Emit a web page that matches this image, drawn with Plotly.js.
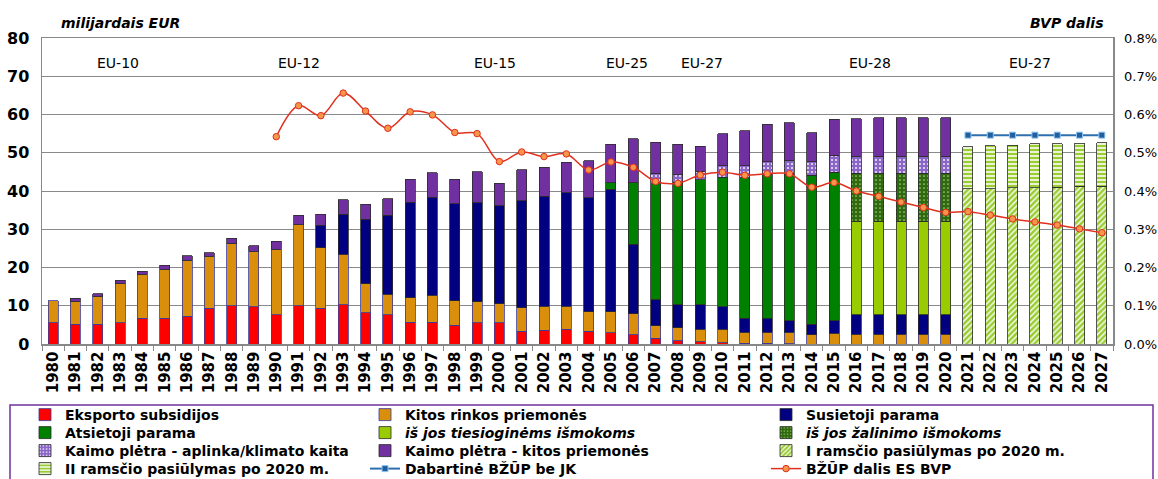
<!DOCTYPE html>
<html><head><meta charset="utf-8">
<script src="https://cdn.plot.ly/plotly-3.0.1.min.js"></script>
<style>html,body{margin:0;padding:0;background:#fff;} #chart{width:1158px;height:479px;}</style>
</head><body><div id="chart"></div>
<script>
// ---- DATA (billions EUR unless noted) ----
const years = ['1980','1981','1982','1983','1984','1985','1986','1987','1988','1989',
  '1990','1991','1992','1993','1994','1995','1996','1997','1998','1999',
  '2000','2001','2002','2003','2004','2005','2006','2007','2008','2009',
  '2010','2011','2012','2013','2014','2015','2016','2017','2018','2019',
  '2020','2021','2022','2023','2024','2025','2026','2027'];

// each series: first year it appears, then its values
const eksportoStart = 1980;
const eksportoSubsidijos = [5.6,5.1,5.1,5.6,6.7,6.7,7.3,9.3,10.0,9.8,7.7,10.0,9.3,10.2,8.2,7.7,5.7,5.7,4.9,5.5,5.5,3.3,3.6,3.8,3.4,3.0,2.4,1.5,0.9,0.6,0.3,0.2,0.2,0.1];
const kitosRinkosStart = 1980;
const kitosRinkosPriemones = [5.7,5.9,7.3,10.1,11.5,12.8,14.6,13.6,16.2,14.4,17.1,21.2,15.9,13.3,7.5,5.3,6.4,7.1,6.4,5.5,5.0,6.2,6.3,6.1,5.0,5.4,5.5,3.3,3.3,3.2,3.5,2.9,2.9,3.0,2.4,2.8,2.6,2.6,2.6,2.6,2.6];
const susietojiStart = 1992;
const susietojiParama = [5.8,10.4,16.9,20.6,25.0,25.6,25.4,25.9,25.7,28.0,28.7,29.7,29.9,32.1,18.2,6.8,6.1,6.5,6.0,3.6,3.6,3.0,2.7,3.3,5.0,5.0,5.0,5.0,5.0];
const atsietojiStart = 2005;
const atsietojiParama = [1.6,16.0,30.3,32.0,32.6,33.8,36.8,37.5,38.6,39.0,38.8];
const tiesioginiuStart = 2016;
const tiesioginemsIsmokoms = [24.5,24.5,24.5,24.5,24.5];
const zalinimoStart = 2016;
const zalinimoIsmokoms = [12.5,12.5,12.5,12.5,12.5];
const kpAplinkaStart = 2007;
const kaimoPletraAplinka = [2.7,2.0,2.3,3.0,3.1,3.4,3.4,3.5,4.4,4.5,4.5,4.5,4.5,4.5];
const kpKitosStart = 1981;
const kaimoPletraKitos = [0.9,0.7,1.0,0.8,1.1,1.2,1.0,1.4,1.5,2.1,2.5,2.9,3.8,4.0,4.4,6.0,6.4,6.4,8.1,5.8,8.0,7.6,7.9,9.6,10.1,11.5,8.2,7.9,6.5,8.4,9.1,9.9,9.8,7.6,9.5,9.8,10.1,10.1,10.1,10.1];
const pillar1Start = 2021;
const iRamscioPasiulymas = [40.6,40.6,40.8,40.8,41.0,41.2,41.3];
const pillar2Start = 2021;
const iiRamscioPasiulymas = [11.0,11.2,11.2,11.5,11.3,11.3,11.3];
const dabartineStart = 2021;
const dabartineBzupBeJK = [54.6,54.6,54.6,54.6,54.6,54.6,54.6];
const bvpStart = 1990;
const bzupDalisBVP = [0.542,0.623,0.597,0.656,0.609,0.564,0.607,0.599,0.553,0.550,0.477,0.502,0.490,0.497,0.455,0.476,0.462,0.425,0.420,0.442,0.449,0.441,0.445,0.445,0.410,0.422,0.400,0.386,0.371,0.357,0.344,0.346,0.337,0.327,0.319,0.311,0.301,0.291]; // % of GDP

const euLabels = ['EU-10','EU-12','EU-15','EU-25','EU-27','EU-28','EU-27'];
const leftTitle = 'milijardais EUR';
const rightTitle = 'BVP dalis';

// align a series to the year categories
function align(start, vals){
  return years.map(y => { const i = +y - start; return (i >= 0 && i < vals.length) ? vals[i] : null; });
}

const edge = '#2a2a2a', edgeLow = '#3b3b9a';
function bar(name, start, vals, color, opts){
  return {type:'bar', name:name, x:years, y:align(start, vals),
    marker:Object.assign({color:color, line:{color:(opts&&opts.edge)||edge, width:0.8}}, (opts&&opts.pattern)?{pattern:opts.pattern}:{}),
    hoverinfo:'x+y+name'};
}

const traces = [
  bar('Eksporto subsidijos', eksportoStart, eksportoSubsidijos, '#FF0000', {edge:edgeLow}),
  bar('Kitos rinkos priemonės', kitosRinkosStart, kitosRinkosPriemones, '#D98E0C', {edge:edgeLow}),
  bar('Susietoji parama', susietojiStart, susietojiParama, '#000080'),
  bar('Atsietoji parama', atsietojiStart, atsietojiParama, '#008000'),
  bar('<i>iš jos tiesioginėms išmokoms</i>', tiesioginiuStart, tiesioginemsIsmokoms, '#99CC00'),
  bar('<i>iš jos žalinimo išmokoms</i>', zalinimoStart, zalinimoIsmokoms, '#2F6A12',
      {pattern:{shape:'.', bgcolor:'#2F6A12', fgcolor:'#A6D36A', size:4, solidity:0.15}}),
  bar('Kaimo plėtra - aplinka/klimato kaita', kpAplinkaStart, kaimoPletraAplinka, '#8C6BCB',
      {pattern:{shape:'.', bgcolor:'#8A66C8', fgcolor:'#F2ECFA', size:4, solidity:0.2}}),
  bar('Kaimo plėtra - kitos priemonės', kpKitosStart, kaimoPletraKitos, '#7030A0'),
  bar('I ramsčio pasiūlymas po 2020 m.', pillar1Start, iRamscioPasiulymas, '#9ACD32',
      {pattern:{shape:'/', bgcolor:'#9ACD32', fgcolor:'#FFFFFF', size:4, solidity:0.35}}),
  bar('II ramsčio pasiūlymas po 2020 m.', pillar2Start, iiRamscioPasiulymas, '#9ACD32',
      {pattern:{shape:'-', bgcolor:'#9ACD32', fgcolor:'#FFFFFF', size:4, solidity:0.4}}),
  {type:'scatter', mode:'lines+markers', name:'Dabartinė BŽŪP be JK', x:years, y:align(dabartineStart, dabartineBzupBeJK),
   line:{color:'#2E6FAE', width:2},
   marker:{symbol:'square', size:6, color:'#1F5F9F', line:{color:'#8FC3F0', width:1}}},
  {type:'scatter', mode:'lines+markers', name:'BŽŪP dalis ES BVP', x:years, y:align(bvpStart, bzupDalisBVP),
   yaxis:'y2', line:{color:'#E0301E', width:1.5, shape:'spline', smoothing:1},
   marker:{symbol:'circle', size:6.5, color:'#F7964A', line:{color:'#E0301E', width:1}}}
];

const W = 1158, H = 479, L = 42, R = 45, T = 38, B = 135;
const pw = W - L - R, ph = H - T - B;
const px = v => (v - L) / pw;      // pixel -> paper x
const py = v => (H - B - v) / ph;  // pixel -> paper y

const legFont = {family:'DejaVu Sans', size:14, weight:'bold', color:'#000'};
const colX = [25, 365, 766];
const rowTop = [399, 417, 435, 453];

const layout = {
  width:W, height:H, margin:{l:L, r:R, t:T, b:B, pad:0, autoexpand:false},
  paper_bgcolor:'#fff', plot_bgcolor:'#fff',
  barmode:'stack', bargap:0.55, showlegend:true,
  xaxis:{type:'category', range:[-0.5, years.length - 0.5], autorange:false, tickangle:-90, automargin:false, showgrid:false,
    tickfont:{family:'DejaVu Sans', size:15, weight:'bold', color:'#000'},
    ticks:'outside', tickson:'boundaries', ticklen:5, tickcolor:'#888',
    showline:true, linecolor:'#888', linewidth:1.5, mirror:true, fixedrange:true},
  yaxis:{range:[0,80], dtick:10, automargin:false, showgrid:true, gridcolor:'#8a8a8a', gridwidth:1,
    tickfont:{family:'DejaVu Sans', size:16, weight:'bold', color:'#000'},
    showline:true, linecolor:'#888', linewidth:1.5, ticks:'', ticklabelstandoff:8, zeroline:false, fixedrange:true},
  yaxis2:{range:[0,0.8], dtick:0.1, overlaying:'y', side:'right', automargin:false, showgrid:false,
    tickformat:'.1f', ticksuffix:'%', tickfont:{family:'DejaVu Sans', size:13, color:'#000'},
    showline:true, linecolor:'#888', linewidth:1.5, ticks:'', ticklabelstandoff:7, zeroline:false, fixedrange:true},
  annotations: [],
  shapes:[{type:'rect', xref:'paper', yref:'paper', x0:px(10), x1:px(1153), y0:py(405), y1:py(520),
    line:{color:'#7030A0', width:1.5}, fillcolor:'rgba(0,0,0,0)', layer:'above'}]
};

// one legend per entry, laid out in 3 columns x 4 rows
traces.forEach((t, i) => {
  const key = i === 0 ? 'legend' : 'legend' + (i + 1);
  t.legend = key;
  layout[key] = {x:px(colX[i % 3]), y:py(rowTop[Math.floor(i / 3)]), xanchor:'left', yanchor:'top',
    orientation:'v', bgcolor:'rgba(0,0,0,0)', borderwidth:0, font:legFont};
});

const euPos = [2.9, 11.0, 19.8, 25.7, 29.1, 36.6, 43.8];
euLabels.forEach((t,i)=>layout.annotations.push({text:t, x:euPos[i], xref:'x', y:py(53), yref:'paper',
  showarrow:false, font:{family:'DejaVu Sans', size:14, weight:'normal', color:'#000'}}));
layout.annotations.push({text:'<b><i>'+leftTitle+'</i></b>', xref:'paper', yref:'paper', x:px(59), y:py(23), xanchor:'left', yanchor:'middle',
  showarrow:false, font:{family:'DejaVu Sans', size:14, color:'#000'}});
layout.annotations.push({text:'<b><i>'+rightTitle+'</i></b>', xref:'paper', yref:'paper', x:px(1105), y:py(23), xanchor:'right', yanchor:'middle',
  showarrow:false, font:{family:'DejaVu Sans', size:14, color:'#000'}});

Plotly.newPlot('chart', traces, layout, {displayModeBar:false, staticPlot:true});
</script></body></html>
